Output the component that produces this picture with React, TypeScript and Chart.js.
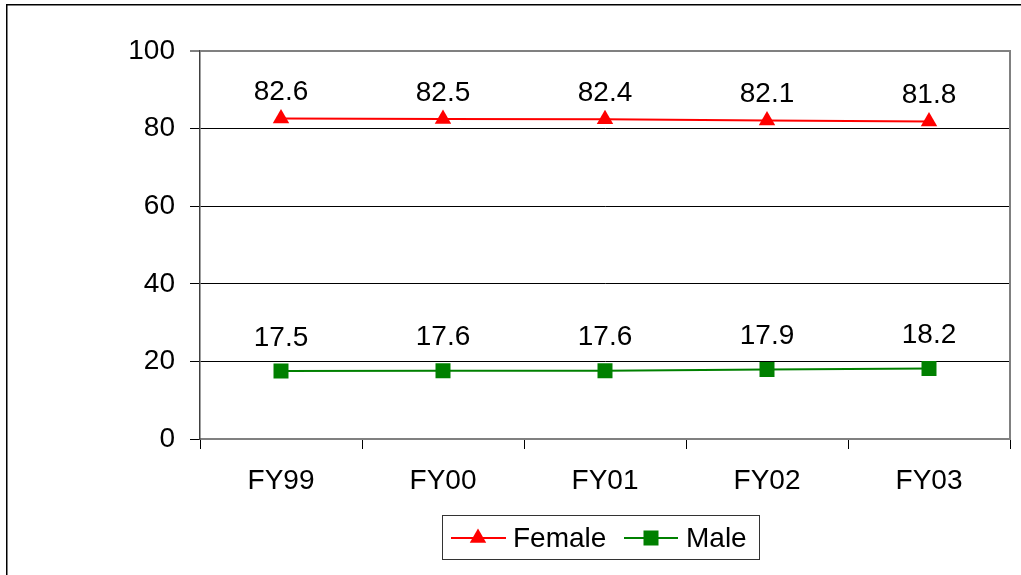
import { useEffect, useRef } from "react";
import { Chart, registerables } from "chart.js";

Chart.register(...registerables);

const categories = ["FY99", "FY00", "FY01", "FY02", "FY03"];
const femaleValues = [82.6, 82.5, 82.4, 82.1, 81.8];
const maleValues = [17.5, 17.6, 17.6, 17.9, 18.2];
const seriesNames = ["Female", "Male"];
const yMin = 0;
const yMax = 100;
const yStep = 20;

const FONT = "'Liberation Sans', Arial, sans-serif";
const FS = 28;
const RED = "#FF0000";
const GREEN = "#008000";

function drawTriangle(ctx: CanvasRenderingContext2D, x: number, y: number, r: number, color: string) {
  ctx.beginPath();
  ctx.moveTo(x, y - r);
  ctx.lineTo(x + r * Math.sin((2 * Math.PI) / 3), y - r * Math.cos((2 * Math.PI) / 3));
  ctx.lineTo(x + r * Math.sin((4 * Math.PI) / 3), y - r * Math.cos((4 * Math.PI) / 3));
  ctx.closePath();
  ctx.fillStyle = color;
  ctx.fill();
}

const framePlugin = {
  id: "frame",
  beforeDraw(chart: any) {
    const ctx = chart.ctx as CanvasRenderingContext2D;
    ctx.save();
    ctx.fillStyle = "#ffffff";
    ctx.fillRect(0, 0, chart.width, chart.height);
    ctx.restore();
  },
  afterDraw(chart: any) {
    const ctx = chart.ctx as CanvasRenderingContext2D;
    const area = chart.chartArea;
    ctx.save();
    // outer frame
    ctx.fillStyle = "#000000";
    ctx.fillRect(6, 4, chart.width - 6, 1.5);
    ctx.fillRect(6, 4, 1.5, chart.height - 4);
    // plot right border
    ctx.strokeStyle = "#808080";
    ctx.lineWidth = 2;
    ctx.beginPath();
    ctx.moveTo(area.right, area.top - 1);
    ctx.lineTo(area.right, area.bottom);
    ctx.stroke();

    // legend
    const bx = 442, by = 515, bw = 317, bh = 44;
    ctx.strokeStyle = "#333333";
    ctx.lineWidth = 1;
    ctx.strokeRect(bx + 0.5, by + 0.5, bw, bh);
    const cy = 538;
    ctx.font = `${FS}px ${FONT}`;
    ctx.textBaseline = "middle";
    ctx.textAlign = "left";
    // Female
    ctx.strokeStyle = RED;
    ctx.lineWidth = 2;
    ctx.beginPath();
    ctx.moveTo(451, cy);
    ctx.lineTo(506, cy);
    ctx.stroke();
    drawTriangle(ctx, 478, cy, 9.5, RED);
    ctx.fillStyle = "#000";
    ctx.fillText(seriesNames[0], 513, cy + 1);
    // Male
    ctx.strokeStyle = GREEN;
    ctx.beginPath();
    ctx.moveTo(624, cy);
    ctx.lineTo(678, cy);
    ctx.stroke();
    ctx.fillStyle = GREEN;
    ctx.fillRect(651 - 7.5, cy - 7.5, 15, 15);
    ctx.fillStyle = "#000";
    ctx.fillText(seriesNames[1], 686, cy + 1);
    ctx.restore();
  },
};

const labelPlugin = {
  id: "valueLabels",
  afterDatasetsDraw(chart: any) {
    const ctx = chart.ctx as CanvasRenderingContext2D;
    const offsets = [26, 33];
    ctx.save();
    ctx.font = `${FS}px ${FONT}`;
    ctx.fillStyle = "#000";
    ctx.textAlign = "center";
    ctx.textBaseline = "middle";
    chart.data.datasets.forEach((ds: any, i: number) => {
      const meta = chart.getDatasetMeta(i);
      meta.data.forEach((pt: any, j: number) => {
        ctx.fillText(Number(ds.data[j]).toFixed(1), pt.x, pt.y - offsets[i]);
      });
    });
    ctx.restore();
  },
};

export default function App() {
  const canvasRef = useRef<HTMLCanvasElement | null>(null);

  useEffect(() => {
    if (!canvasRef.current) return;
    const chart = new Chart(canvasRef.current, {
      type: "line",
      data: {
        labels: categories,
        datasets: [
          {
            label: seriesNames[0],
            data: femaleValues,
            borderColor: RED,
            backgroundColor: RED,
            borderWidth: 2,
            pointStyle: "triangle",
            pointRadius: 9.5,
            pointBorderWidth: 0,
            pointBackgroundColor: RED,
          },
          {
            label: seriesNames[1],
            data: maleValues,
            borderColor: GREEN,
            backgroundColor: GREEN,
            borderWidth: 2,
            pointStyle: "rect",
            pointRadius: 10.6,
            pointBorderWidth: 0,
            pointBackgroundColor: GREEN,
          },
        ],
      },
      options: {
        responsive: false,
        animation: false,
        layout: { padding: { top: 51, right: 11, left: 0, bottom: 0 } },
        plugins: {
          legend: { display: false },
          tooltip: { enabled: false },
          title: { display: false },
        },
        scales: {
          x: {
            offset: true,
            grid: {
              offset: true,
              drawOnChartArea: false,
              drawTicks: true,
              tickLength: 10,
              color: "#000",
              lineWidth: 1,
            },
            border: { color: "#808080", width: 2 },
            ticks: {
              color: "#000",
              font: { family: FONT, size: FS },
              padding: 15,
              maxRotation: 0,
            },
            afterFit: (s: any) => {
              s.height = 136;
            },
          },
          y: {
            min: yMin,
            max: yMax,
            grid: {
              color: (c: any) => (c.tick && c.tick.value === yMax ? "#808080" : "#000"),
              lineWidth: (c: any) => (c.tick && c.tick.value === yMax ? 2 : 1),
              tickColor: "#000",
              tickWidth: 1,
              tickLength: 10,
              drawTicks: true,
            },
            border: { color: "#404040", width: 1.5 },
            ticks: {
              stepSize: yStep,
              color: "#000",
              font: { family: FONT, size: FS },
              padding: 15,
            },
            afterFit: (s: any) => {
              s.width = 200;
            },
          },
        },
      },
      plugins: [framePlugin, labelPlugin],
    });
    return () => chart.destroy();
  }, []);

  return (
    <div style={{ position: "fixed", left: 0, top: 0, width: 1021, height: 575, background: "#fff" }}>
      <canvas ref={canvasRef} width={1021} height={575} style={{ display: "block" }} />
    </div>
  );
}
